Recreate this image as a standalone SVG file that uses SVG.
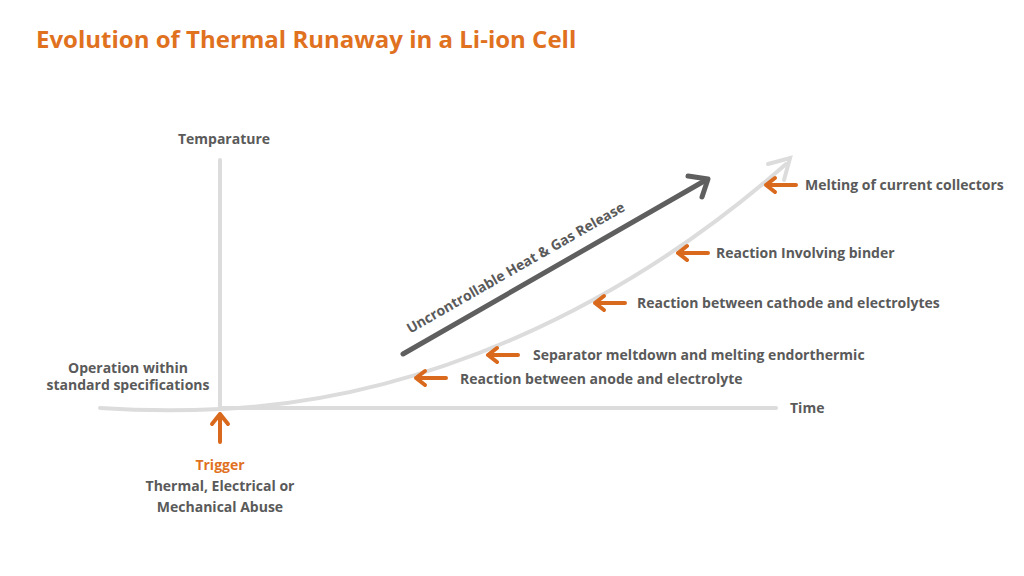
<svg xmlns="http://www.w3.org/2000/svg" width="1024" height="576" viewBox="0 0 1024 576">
<style>
text{font-family:"Open Sans","Liberation Sans",sans-serif;font-weight:700;fill:#5a5a5a;font-size:14px}
.o{stroke:#d9691c;stroke-width:4;fill:none;stroke-linecap:round;stroke-linejoin:round}
.ax{stroke:#dcdcdc;stroke-width:4;fill:none;stroke-linecap:round}
</style>
<rect width="1024" height="576" fill="#fff"/>
<text x="36" y="48" style="font-size:24px;fill:#e0711f">Evolution of Thermal Runaway in a Li-ion Cell</text>
<g id="axes">
<line class="ax" x1="220" y1="160" x2="220" y2="408"/>
<line class="ax" x1="220" y1="408" x2="776" y2="408"/>
<text x="224" y="144" text-anchor="middle">Temparature</text>
<text x="790" y="413">Time</text>
</g>
<g id="connectors">
<path class="ax" d="M100,408 Q160,412 220,409 C420,400 620,310 786,164"/>
<path class="ax" d="M768,164 L790,158 L784,180"/>
<line x1="403" y1="354" x2="706" y2="180" stroke="#5f5f5f" stroke-width="5" stroke-linecap="round"/>
<path d="M688,176 L708,179 L702,197" stroke="#5f5f5f" stroke-width="5" fill="none" stroke-linecap="round" stroke-linejoin="round"/>
<text transform="translate(518,272) rotate(-29.8)" text-anchor="middle" style="font-size:14px">Uncrontrollable Heat &amp; Gas Release</text>
<path class="o" d="M220,442 V414 M212,424 L220,414 L228,424"/>
</g>
<g id="steps">
<path class="o" d="M446,378 H416 M425,371 L416,378 L425,385"/><text x="460" y="384">Reaction between anode and electrolyte</text>
<path class="o" d="M518,355 H488 M497,348 L488,355 L497,362"/><text x="533" y="360">Separator meltdown and melting endorthermic</text>
<path class="o" d="M625,303 H595 M604,296 L595,303 L604,310"/><text x="637" y="308">Reaction between cathode and electrolytes</text>
<path class="o" d="M708,253 H678 M687,246 L678,253 L687,260"/><text x="716" y="258">Reaction Involving binder</text>
<path class="o" d="M796,185 H766 M775,178 L766,185 L775,192"/><text x="805" y="190">Melting of current collectors</text>
</g>
<g id="labels">
<text x="128" y="373" text-anchor="middle">Operation within</text>
<text x="128" y="390" text-anchor="middle">standard specifications</text>
<text x="220" y="470" text-anchor="middle" style="fill:#e0711f">Trigger</text>
<text x="220" y="491" text-anchor="middle">Thermal, Electrical or</text>
<text x="220" y="512" text-anchor="middle">Mechanical Abuse</text>
</g>
</svg>
